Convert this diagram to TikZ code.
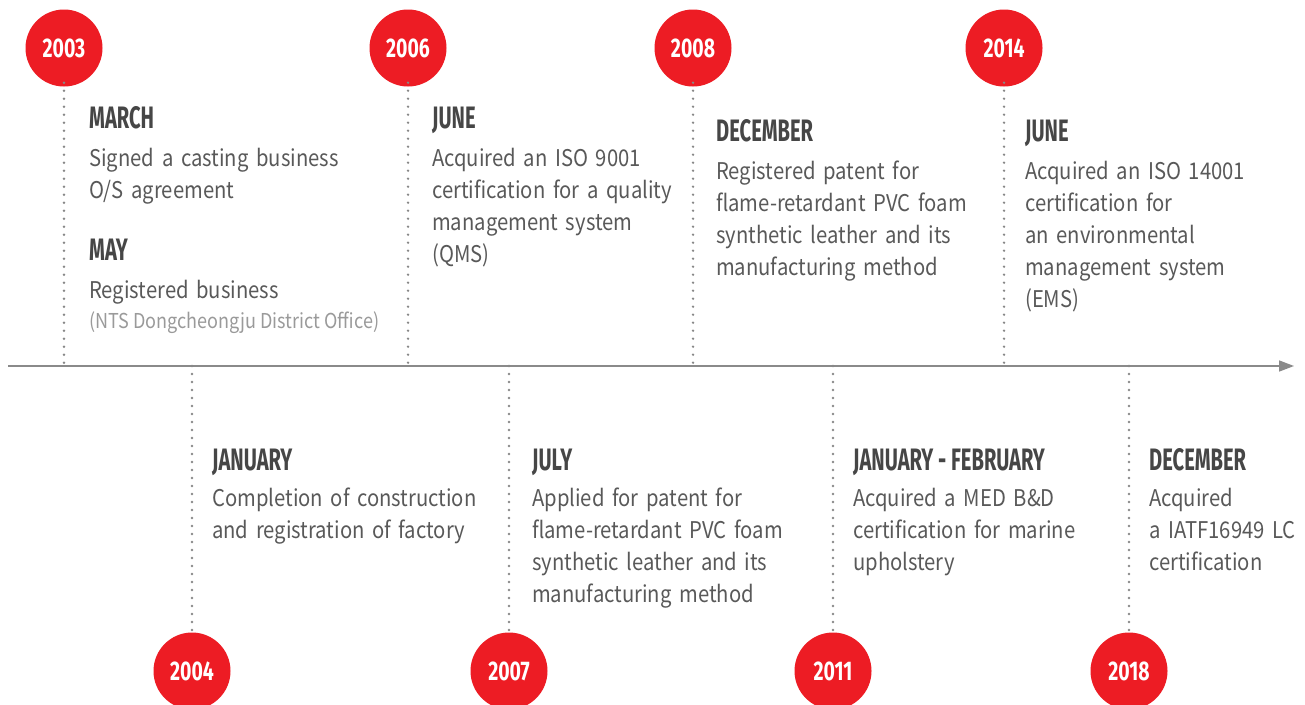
\documentclass[tikz,border=0pt]{standalone}
\usepackage{fontspec}
\setmainfont{Noto Sans CJK KR}[FakeStretch=0.88]
\newfontfamily\headf{Fira Sans}[FakeStretch=0.65]
\newfontfamily\yearf{Fira Sans}[FakeStretch=0.72]
\usetikzlibrary{arrows.meta}
\definecolor{tred}{HTML}{ED1C24}
\definecolor{headc}{HTML}{464646}
\definecolor{bodyc}{HTML}{595959}
\definecolor{notec}{HTML}{9A9A9A}
\definecolor{dotc}{HTML}{888888}
\definecolor{axisc}{HTML}{8A8A8A}
\begin{document}
\begin{tikzpicture}[x=1pt,y=-1pt,
  year/.style={circle,fill=tred,minimum size=77pt,inner sep=0pt,text=white,
    font=\yearf\bfseries\fontsize{27}{27}\selectfont},
  dotline/.style={draw=dotc,line width=2.6pt,line cap=round,dash pattern=on 0pt off 8pt},
  head/.style={anchor=base west,inner sep=0pt,text=headc,
    font=\headf\bfseries\fontsize{31}{31}\selectfont},
  body/.style={anchor=base west,inner sep=0pt,text=bodyc,text width=320pt,align=left,
    font=\fontsize{23}{32}\selectfont},
  note/.style={anchor=base west,inner sep=0pt,text=notec,
    font=\fontsize{20.5}{24}\selectfont},
]
\useasboundingbox (0,0) rectangle (1305,704);
\fill[white] (0,0) rectangle (1305,704);

% axis
\coordinate (axs) at (8,366);
\coordinate (axe) at (1294,366);
\draw[axisc,line width=1.5pt,-{Triangle[length=15pt,width=11pt]}] (axs) -- (axe);

% axis points
\foreach \n/\x in {2003/64,2006/408,2008/693,2014/1004,2004/192,2007/509,2011/833,2018/1129}
  \coordinate (p\n) at (\x,366);

% year circles
\node[year] (y2003) at (64,48) {2003};
\node[year] (y2006) at (408,48) {2006};
\node[year] (y2008) at (693,48) {2008};
\node[year] (y2014) at (1004,48) {2014};
\node[year] (y2004) at (192,671) {2004};
\node[year] (y2007) at (509,671) {2007};
\node[year] (y2011) at (833,671) {2011};
\node[year] (y2018) at (1129,671) {2018};

% dotted connectors
\foreach \n in {2003,2006,2008,2014}
  \draw[dotline] ([yshift=4pt]y\n.south) -- (p\n);
\foreach \n in {2004,2007,2011,2018}
  \draw[dotline] (p\n) -- ([yshift=-4pt]y\n.north);

% 2003
\node[head] (h2003a) at (89,128) {MARCH};
\node[body] (b2003a) at (89,166) {Signed a casting business\\O/S agreement};
\node[head] (h2003b) at (89,260) {MAY};
\node[body] (b2003b) at (89,298) {Registered business};
\node[note] (n2003b) at (89,328) {(NTS Dongcheongju District Office)};

% 2006
\node[head] (h2006) at (432,128) {JUNE};
\node[body] (b2006) at (432,166) {Acquired an ISO 9001\\certification for a quality\\management system\\(QMS)};

% 2008
\node[head] (h2008) at (716,141) {DECEMBER};
\node[body] (b2008) at (716,179) {Registered patent for\\flame-retardant PVC foam\\synthetic leather and its\\manufacturing method};

% 2014
\node[head] (h2014) at (1025,141) {JUNE};
\node[body] (b2014) at (1025,179) {Acquired an ISO 14001\\certification for\\an environmental\\management system\\(EMS)};

% 2004
\node[head] (h2004) at (212,470) {JANUARY};
\node[body] (b2004) at (212,506) {Completion of construction\\and registration of factory};

% 2007
\node[head] (h2007) at (532,470) {JULY};
\node[body] (b2007) at (532,506) {Applied for patent for\\flame-retardant PVC foam\\synthetic leather and its\\manufacturing method};

% 2011
\node[head] (h2011) at (853,470) {JANUARY - FEBRUARY};
\node[body] (b2011) at (853,506) {Acquired a MED B\&D\\certification for marine\\upholstery};

% 2018
\node[head] (h2018) at (1149,470) {DECEMBER};
\node[body] (b2018) at (1149,506) {Acquired\\a IATF16949 LC\\certification};
\end{tikzpicture}
\end{document}
